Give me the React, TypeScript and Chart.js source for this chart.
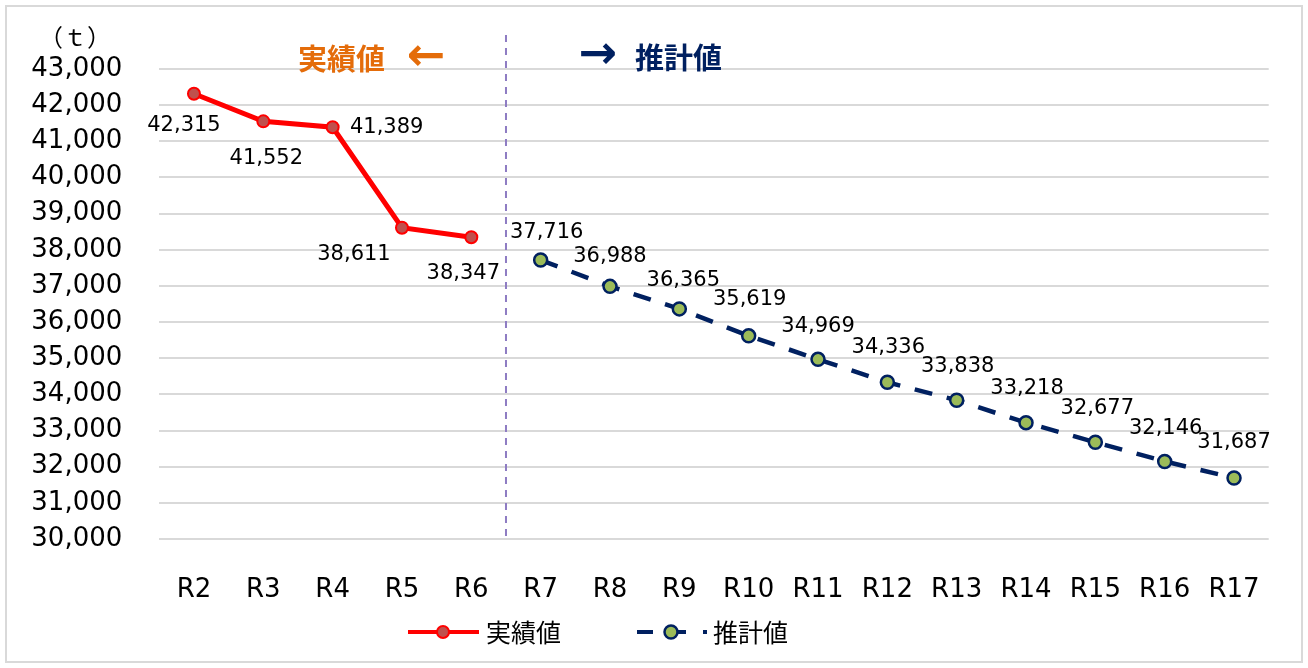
import React, { useEffect, useRef } from 'react';
import { Chart, registerables } from 'chart.js';

Chart.register(...registerables);

// ---- data ----
const categories = ['R2', 'R3', 'R4', 'R5', 'R6', 'R7', 'R8', 'R9', 'R10', 'R11', 'R12', 'R13', 'R14', 'R15', 'R16', 'R17'];
const actualValues: (number | null)[] = [42315, 41552, 41389, 38611, 38347, null, null, null, null, null, null, null, null, null, null, null];
const forecastValues: (number | null)[] = [null, null, null, null, null, 37716, 36988, 36365, 35619, 34969, 34336, 33838, 33218, 32677, 32146, 31687];
const yMin = 30000;
const yMax = 43000;
const yStep = 1000;
const seriesNames = ['実績値', '推計値'];
const unitLabel = '（ｔ）';
const leftNote = '実績値';
const rightNote = '推計値';
const leftArrow = '←';
const rightArrow = '→';

// ---- layout / style (not data) ----
const actualLabelOffsets: [number, number][] = [[-10, 32], [3, 37], [54, 0], [-48, 27], [-8, 36]];
const forecastLabelOffsets: [number, number][] = [[6, -27], [0, -30], [4, -28], [1, -36], [0, -33], [1, -35], [1, -34], [1, -34], [2, -34], [1, -33], [0, -35]];

const RED = '#ff0000';
const RED_FILL = '#c0504d';
const NAVY = '#002060';
const GREEN = '#9bbb59';
const ORANGE = '#e46c0a';
const LATIN = '"DejaVu Sans", Verdana, sans-serif';
const CJK = '"Noto Sans CJK JP", "DejaVu Sans", sans-serif';

const fmt = (v: number) => v.toLocaleString('en-US');

const customPlugin = {
  id: 'customDraw',
  beforeDraw(chart: any) {
    const { ctx } = chart;
    ctx.save();
    ctx.fillStyle = '#ffffff';
    ctx.fillRect(0, 0, chart.width, chart.height);
    ctx.strokeStyle = '#d9d9d9';
    ctx.lineWidth = 2;
    ctx.strokeRect(6, 6, 1296, 656);
    ctx.restore();
  },
  beforeDatasetsDraw(chart: any) {
    const { ctx, scales } = chart;
    const x = (scales.x.getPixelForValue(4) + scales.x.getPixelForValue(5)) / 2;
    ctx.save();
    ctx.strokeStyle = '#8e7cc3';
    ctx.lineWidth = 2;
    ctx.setLineDash([7, 6]);
    ctx.beginPath();
    ctx.moveTo(x, 35);
    ctx.lineTo(x, 542);
    ctx.stroke();
    ctx.restore();
  },
  afterDatasetsDraw(chart: any) {
    const { ctx } = chart;
    ctx.save();
    ctx.font = `21px ${LATIN}`;
    ctx.fillStyle = '#000000';
    ctx.textAlign = 'center';
    ctx.textBaseline = 'middle';
    const m0 = chart.getDatasetMeta(0);
    let k = 0;
    actualValues.forEach((v, i) => {
      if (v == null) return;
      const el = m0.data[i];
      const off = actualLabelOffsets[k++] || [0, -30];
      ctx.fillText(fmt(v), el.x + off[0], el.y + off[1]);
    });
    const m1 = chart.getDatasetMeta(1);
    k = 0;
    forecastValues.forEach((v, i) => {
      if (v == null) return;
      const el = m1.data[i];
      const off = forecastLabelOffsets[k++] || [0, -30];
      ctx.fillText(fmt(v), el.x + off[0], el.y + off[1]);
    });
    ctx.restore();
  },
  afterDraw(chart: any) {
    const { ctx } = chart;
    ctx.save();
    // unit label
    ctx.fillStyle = '#000000';
    ctx.font = `24px ${CJK}`;
    ctx.textAlign = 'center';
    ctx.textBaseline = 'middle';
    ctx.fillText(unitLabel, 75, 37);

    // annotations
    ctx.textAlign = 'left';
    ctx.font = `bold 29px ${CJK}`;
    ctx.fillStyle = ORANGE;
    ctx.fillText(leftNote, 298, 59);
    ctx.fillStyle = NAVY;
    ctx.fillText(rightNote, 635, 58);
    ctx.textAlign = 'center';
    ctx.font = `bold 46px ${LATIN}`;
    ctx.fillStyle = ORANGE;
    ctx.fillText(leftArrow, 426, 58);
    ctx.fillStyle = NAVY;
    ctx.fillText(rightArrow, 598, 56);

    // legend
    const ly = 632;
    ctx.lineCap = 'butt';
    ctx.strokeStyle = RED;
    ctx.lineWidth = 4;
    ctx.beginPath();
    ctx.moveTo(408, ly);
    ctx.lineTo(479, ly);
    ctx.stroke();
    ctx.beginPath();
    ctx.arc(443, ly, 6, 0, Math.PI * 2);
    ctx.fillStyle = RED_FILL;
    ctx.fill();
    ctx.lineWidth = 2;
    ctx.stroke();

    ctx.strokeStyle = NAVY;
    ctx.lineWidth = 4;
    ctx.beginPath();
    ctx.moveTo(637, ly);
    ctx.lineTo(653, ly);
    ctx.moveTo(671, ly);
    ctx.lineTo(686, ly);
    ctx.moveTo(703, ly);
    ctx.lineTo(707, ly);
    ctx.stroke();
    ctx.beginPath();
    ctx.arc(671, ly, 6.5, 0, Math.PI * 2);
    ctx.fillStyle = GREEN;
    ctx.fill();
    ctx.lineWidth = 2.5;
    ctx.stroke();

    ctx.fillStyle = '#000000';
    ctx.textAlign = 'left';
    ctx.font = `25px ${CJK}`;
    ctx.textBaseline = 'middle';
    ctx.fillText(seriesNames[0], 486, ly);
    ctx.fillText(seriesNames[1], 713, ly);
    ctx.restore();
  },
};

export default function App() {
  const ref = useRef<HTMLCanvasElement | null>(null);
  useEffect(() => {
    if (!ref.current) return;
    const chart = new Chart(ref.current, {
      type: 'line',
      data: {
        labels: categories,
        datasets: [
          {
            label: seriesNames[0],
            data: actualValues,
            borderColor: RED,
            borderWidth: 5,
            pointRadius: 6,
            pointBorderWidth: 2,
            pointBackgroundColor: RED_FILL,
            pointBorderColor: RED,
            tension: 0,
            spanGaps: false,
          },
          {
            label: seriesNames[1],
            data: forecastValues,
            borderColor: NAVY,
            borderWidth: 4.5,
            borderDash: [18, 15],
            pointRadius: 6.5,
            pointBorderWidth: 2.5,
            pointBackgroundColor: GREEN,
            pointBorderColor: NAVY,
            tension: 0,
            spanGaps: false,
          },
        ],
      },
      options: {
        responsive: false,
        animation: false,
        devicePixelRatio: 1,
        layout: { padding: { left: 0, right: 39.3, top: 69, bottom: 0 } },
        plugins: {
          legend: { display: false },
          tooltip: { enabled: false },
          title: { display: false },
        },
        scales: {
          x: {
            type: 'category',
            offset: true,
            grid: { display: false },
            border: { display: false },
            ticks: {
              color: '#000000',
              font: { family: LATIN, size: 26 },
              padding: 28,
              maxRotation: 0,
              autoSkip: false,
            },
            afterFit(scale: any) {
              scale.height = 129;
            },
          },
          y: {
            min: yMin,
            max: yMax,
            grid: { color: '#d9d9d9', lineWidth: 2, drawTicks: false },
            border: { display: false },
            ticks: {
              stepSize: yStep,
              color: '#000000',
              font: { family: LATIN, size: 26 },
              padding: 37,
              callback: (v: any) => fmt(Number(v)),
            },
            afterFit(scale: any) {
              scale.width = 159.3;
            },
          },
        },
      },
      plugins: [customPlugin],
    });
    return () => chart.destroy();
  }, []);
  return (
    <div style={{ position: 'fixed', left: 0, top: 0, width: 1308, height: 668, overflow: 'hidden', background: '#fff' }}>
      <canvas ref={ref} width={1308} height={668} style={{ display: 'block', width: 1308, height: 668 }} />
    </div>
  );
}
